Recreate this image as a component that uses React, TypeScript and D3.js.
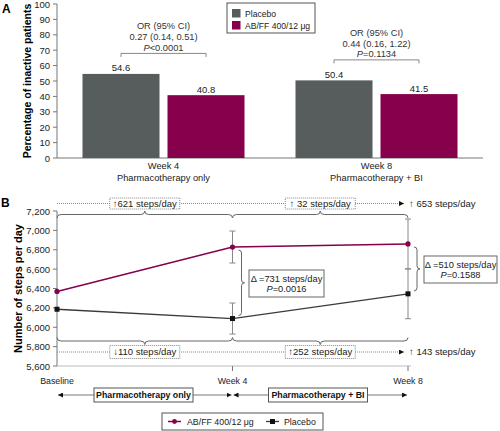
import React from "react";
import * as d3 from "d3";

// ---------- Data ----------
const weeksA = ["Week 4", "Week 8"];
const phasesA = ["Pharmacotherapy only", "Pharmacotherapy + BI"];
const groupsA = ["Placebo", "AB/FF 400/12 μg"];
const placeboPct = [54.6, 50.4];
const abffPct = [40.8, 41.5];
const orHeader = ["OR (95% CI)", "OR (95% CI)"];
const orValues = ["0.27 (0.14, 0.51)", "0.44 (0.16, 1.22)"];
const orP = ["<0.0001", "=0.1134"];
const yTicksA = [0, 10, 20, 30, 40, 50, 60, 70, 80, 90, 100];

const timepoints = ["Baseline", "Week 4", "Week 8"];
const abffSteps = [6370, 6828, 6860];
const abffErr = [0, 165, 257];
const placeboSteps = [6186, 6090, 6345];
const placeboErr = [0, 160, 257];
const yTicksB = [5600, 5800, 6000, 6200, 6400, 6600, 6800, 7000, 7200];
const abffChanges = ["↑621 steps/day", "↑ 32 steps/day"];
const abffTotal = "↑ 653 steps/day";
const placeboChanges = ["↓110 steps/day", "↑252 steps/day"];
const placeboTotal = "↑ 143 steps/day";
const deltas = ["731", "510"];
const deltaP = ["=0.0016", "=0.1588"];
const phasesB = ["Pharmacotherapy only", "Pharmacotherapy + BI"];

const PURPLE = "#86004b";
const BARGRAY = "#575c5c";
const LINEGRAY = "#3a3a3a";
const AXIS = "#777";
const FONT = "'Liberation Sans', Arial, sans-serif";

function braceH(x0: number, x1: number, y: number, dir: number, h = 4) {
  const xm = (x0 + x1) / 2;
  const e = y - dir * h;
  const t = y + dir * h;
  return `M${x0},${e} Q${x0},${y} ${x0 + 4},${y} L${xm - 4},${y} Q${xm},${y} ${xm},${t} Q${xm},${y} ${xm + 4},${y} L${x1 - 4},${y} Q${x1},${y} ${x1},${e}`;
}
function braceV(y0: number, y1: number, x: number, h = 3) {
  const ym = (y0 + y1) / 2;
  const e = x - h;
  const t = x + h;
  return `M${e},${y0} Q${x},${y0} ${x},${y0 + 3} L${x},${ym - 3} Q${x},${ym} ${t},${ym} Q${x},${ym} ${x},${ym + 3} L${x},${y1 - 3} Q${x},${y1} ${e},${y1}`;
}

export default function App() {
  // ---------- Panel A ----------
  const yA = d3.scaleLinear().domain([0, 100]).range([158, 4]);
  const xA = d3.scaleBand<string>().domain(weeksA).range([57, 483]).padding(0);
  const xSub = d3
    .scaleBand<string>()
    .domain(groupsA)
    .range([0, xA.bandwidth()])
    .paddingInner(0.094)
    .paddingOuter(0.3);

  // ---------- Panel B ----------
  const yB = d3.scaleLinear().domain([5600, 7200]).range([366, 211]);
  const xB = d3.scalePoint<string>().domain(timepoints).range([57, 408]);
  const lineGen = d3
    .line<number>()
    .x((_, i) => xB(timepoints[i]) as number)
    .y((d) => yB(d));

  const xs = timepoints.map((t) => xB(t) as number);
  const segs = [
    [xs[0], xs[1]],
    [xs[1], xs[2]],
  ];
  const topDotY = 203.5;
  const botDotY = 352;
  const topBraceY = 214.5;
  const botBraceY = 341;

  return (
    <svg
      width={500}
      height={431}
      style={{ position: "absolute", left: 0, top: 0, background: "#fff" }}
      fontFamily={FONT}
    >
      <defs>
        <marker id="arr" viewBox="0 0 10 10" refX="10" refY="5" markerWidth="5" markerHeight="5" orient="auto">
          <path d="M0,0 L10,5 L0,10 z" fill="#111" />
        </marker>
      </defs>

      {/* ===== Panel A ===== */}
      <text x={2} y={13} fontSize={12} fontWeight="bold">A</text>
      <text
        transform={`translate(31,${(yA(0) + yA(100)) / 2}) rotate(-90)`}
        textAnchor="middle"
        fontSize={10.5}
        fontWeight="bold"
      >
        Percentage of inactive patients
      </text>
      <line x1={57} x2={57} y1={yA(0)} y2={yA(100)} stroke={AXIS} />
      {yTicksA.map((t) => (
        <g key={t}>
          <line x1={53} x2={57} y1={yA(t)} y2={yA(t)} stroke={AXIS} />
          <text x={50} y={yA(t) + 3.5} textAnchor="end" fontSize={9.5} fill="#222">
            {t}
          </text>
        </g>
      ))}
      <line x1={57} x2={483} y1={yA(0)} y2={yA(0)} stroke={AXIS} />

      {weeksA.map((w, i) => {
        const x0 = xA(w) as number;
        const xp = x0 + (xSub(groupsA[0]) as number);
        const xa = x0 + (xSub(groupsA[1]) as number);
        const bw = xSub.bandwidth();
        const cx = x0 + xA.bandwidth() / 2;
        const by = yA(Math.max(placeboPct[i], abffPct[i])) - 20.5;
        return (
          <g key={w}>
            <rect x={xp} y={yA(placeboPct[i])} width={bw} height={yA(0) - yA(placeboPct[i])} fill={BARGRAY} />
            <rect x={xa} y={yA(abffPct[i])} width={bw} height={yA(0) - yA(abffPct[i])} fill={PURPLE} />
            <text x={xp + bw / 2} y={yA(placeboPct[i]) - 2.5} textAnchor="middle" fontSize={9.5} fill="#222">
              {placeboPct[i].toFixed(1)}
            </text>
            <text x={xa + bw / 2} y={yA(abffPct[i]) - 2} textAnchor="middle" fontSize={9.5} fill="#222">
              {abffPct[i].toFixed(1)}
            </text>
            <path
              d={`M${xp + bw / 2},${by + 3.5} L${xp + bw / 2},${by} L${xa + bw / 2},${by} L${xa + bw / 2},${by + 3.5}`}
              fill="none"
              stroke="#888"
            />
            <text x={cx} y={by - 24} textAnchor="middle" fontSize={9.3} fill="#333">{orHeader[i]}</text>
            <text x={cx} y={by - 13} textAnchor="middle" fontSize={9.3} fill="#333">{orValues[i]}</text>
            <text x={cx} y={by - 2.5} textAnchor="middle" fontSize={9.3} fill="#333">
              <tspan fontStyle="italic">P</tspan>
              {orP[i]}
            </text>
            <text x={cx} y={169} textAnchor="middle" fontSize={9.3} fill="#222">{w}</text>
            <text x={cx} y={181} textAnchor="middle" fontSize={9.3} fill="#222">{phasesA[i]}</text>
          </g>
        );
      })}

      {/* Legend A */}
      <rect x={227} y={3} width={88} height={30} fill="#fff" stroke="#555" />
      <rect x={232} y={9} width={8.5} height={8.5} fill={BARGRAY} />
      <rect x={232} y={21} width={8.5} height={8.5} fill={PURPLE} />
      <text x={245} y={16.5} fontSize={8.6} fill="#222">{groupsA[0]}</text>
      <text x={245} y={28.5} fontSize={8.6} fill="#222">{groupsA[1]}</text>

      {/* ===== Panel B ===== */}
      <text x={1} y={207} fontSize={12} fontWeight="bold">B</text>
      <text
        transform={`translate(22,${(yB(5600) + yB(7200)) / 2}) rotate(-90)`}
        textAnchor="middle"
        fontSize={11}
        fontWeight="bold"
      >
        Number of steps per day
      </text>
      <line x1={57} x2={57} y1={yB(5600)} y2={yB(7200)} stroke={AXIS} />
      {yTicksB.map((t) => (
        <g key={t}>
          <line x1={53} x2={57} y1={yB(t)} y2={yB(t)} stroke={AXIS} />
          <text x={50} y={yB(t) + 3.5} textAnchor="end" fontSize={9.5} fill="#222">
            {d3.format(",")(t)}
          </text>
        </g>
      ))}
      <line x1={57} x2={xs[2] + 3} y1={yB(5600)} y2={yB(5600)} stroke="#bbb" />
      {timepoints.map((t, i) => (
        <g key={t}>
          {i > 0 && <line x1={xs[i]} x2={xs[i]} y1={yB(5600)} y2={yB(5600) + 5} stroke={AXIS} />}
          <text x={xs[i]} y={383.5} textAnchor="middle" fontSize={8.8} fill="#222">{t}</text>
        </g>
      ))}

      {/* top dotted line and braces */}
      <line x1={57} x2={404} y1={topDotY} y2={topDotY} stroke="#888" strokeDasharray="1,1" markerEnd="url(#arr)" />
      <text x={409} y={topDotY + 3.3} fontSize={9.5} fill="#222">{abffTotal}</text>
      {segs.map(([a, b], i) => (
        <g key={"t" + i}>
          <path d={braceH(a, b, topBraceY, -1, 3.5)} fill="none" stroke="#666" />
          <rect x={(a + b) / 2 - 35} y={topDotY - 5.5} width={70} height={11} fill="#fff" stroke="#888" strokeDasharray="1,1" />
          <text x={(a + b) / 2} y={topDotY + 3.3} textAnchor="middle" fontSize={9.5} fill="#222">
            {abffChanges[i]}
          </text>
        </g>
      ))}

      {/* bottom dotted line and braces */}
      <line x1={57} x2={404} y1={botDotY} y2={botDotY} stroke="#888" strokeDasharray="1,1" markerEnd="url(#arr)" />
      <text x={409} y={botDotY + 3.3} fontSize={9.5} fill="#222">{placeboTotal}</text>
      {segs.map(([a, b], i) => (
        <g key={"b" + i}>
          <path d={braceH(a, b, botBraceY, 1, 3.5)} fill="none" stroke="#666" />
          <rect x={(a + b) / 2 - 35} y={botDotY - 6.5} width={70} height={13} fill="#fff" stroke="#888" strokeDasharray="1,1" />
          <text x={(a + b) / 2} y={botDotY + 3.3} textAnchor="middle" fontSize={9.5} fill="#222">
            {placeboChanges[i]}
          </text>
        </g>
      ))}

      {/* error bars */}
      {timepoints.map((t, i) => (
        <g key={"e" + i} stroke="#888" strokeWidth={1}>
          {abffErr[i] > 0 && (
            <>
              <line x1={xs[i]} x2={xs[i]} y1={yB(abffSteps[i] + abffErr[i])} y2={yB(abffSteps[i] - abffErr[i])} />
              <line x1={xs[i] - 3} x2={xs[i] + 3} y1={yB(abffSteps[i] + abffErr[i])} y2={yB(abffSteps[i] + abffErr[i])} />
              <line x1={xs[i] - 3} x2={xs[i] + 3} y1={yB(abffSteps[i] - abffErr[i])} y2={yB(abffSteps[i] - abffErr[i])} />
            </>
          )}
          {placeboErr[i] > 0 && (
            <>
              <line x1={xs[i]} x2={xs[i]} y1={yB(placeboSteps[i] + placeboErr[i])} y2={yB(placeboSteps[i] - placeboErr[i])} />
              <line x1={xs[i] - 3} x2={xs[i] + 3} y1={yB(placeboSteps[i] + placeboErr[i])} y2={yB(placeboSteps[i] + placeboErr[i])} />
              <line x1={xs[i] - 3} x2={xs[i] + 3} y1={yB(placeboSteps[i] - placeboErr[i])} y2={yB(placeboSteps[i] - placeboErr[i])} />
            </>
          )}
        </g>
      ))}

      {/* lines */}
      <path d={lineGen(placeboSteps) || ""} fill="none" stroke={LINEGRAY} strokeWidth={1.3} />
      <path d={lineGen(abffSteps) || ""} fill="none" stroke={PURPLE} strokeWidth={1.5} />
      {placeboSteps.map((v, i) => (
        <rect key={"ps" + i} x={xs[i] - 2.5} y={yB(v) - 2.5} width={5} height={5} fill="#111" />
      ))}
      {abffSteps.map((v, i) => (
        <circle key={"ac" + i} cx={xs[i]} cy={yB(v)} r={2.6} fill={PURPLE} />
      ))}

      {/* delta braces and boxes */}
      {[1, 2].map((i, k) => {
        const y0 = yB(abffSteps[i]) + 3;
        const y1 = yB(placeboSteps[i]) - 3;
        const bx = xs[i] + 9;
        const boxX = k === 0 ? 249 : 424;
        const boxW = k === 0 ? 75 : 73;
        const boxY = k === 0 ? 270 : 256;
        const boxH = 27;
        return (
          <g key={"d" + i}>
            <path d={braceV(y0, y1, bx, 3)} fill="none" stroke="#666" />
            <rect x={boxX} y={boxY} width={boxW} height={boxH} fill="#fff" stroke="#666" />
            <text x={boxX + boxW / 2} y={boxY + 12} textAnchor="middle" fontSize={9.3} fill="#222">
              Δ ={deltas[k]} steps/day
            </text>
            <text x={boxX + boxW / 2} y={boxY + 22} textAnchor="middle" fontSize={9.3} fill="#222">
              <tspan fontStyle="italic">P</tspan>
              {deltaP[k]}
            </text>
          </g>
        );
      })}

      {/* phase arrows */}
      {segs.map(([a, b], i) => {
        const y = 395;
        const cx = i === 0 ? 143.5 : 318;
        const w = 99;
        return (
          <g key={"ph" + i}>
            <line x1={cx} x2={a + 1} y1={y} y2={y} stroke="#777" markerEnd="url(#arr)" />
            <line x1={cx} x2={b - 1} y1={y} y2={y} stroke="#777" markerEnd="url(#arr)" />
            <rect x={cx - w / 2} y={y - 7} width={w} height={14} fill="#fff" stroke="#555" />
            <text x={cx} y={y + 3.2} textAnchor="middle" fontSize={8.8} fontWeight="bold" fill="#111">
              {phasesB[i]}
            </text>
          </g>
        );
      })}

      {/* Legend B */}
      <rect x={162} y={413} width={161} height={17} fill="#fff" stroke="#555" />
      <line x1={168} x2={181} y1={421.5} y2={421.5} stroke={PURPLE} strokeWidth={1.5} />
      <circle cx={174.5} cy={421.5} r={2.4} fill={PURPLE} />
      <text x={187} y={425} fontSize={8.8} fill="#222">AB/FF 400/12 μg</text>
      <line x1={266} x2={279} y1={421.5} y2={421.5} stroke={LINEGRAY} strokeWidth={1.3} />
      <rect x={270} y={419} width={5} height={5} fill="#111" />
      <text x={284} y={425} fontSize={8.8} fill="#222">Placebo</text>
    </svg>
  );
}
